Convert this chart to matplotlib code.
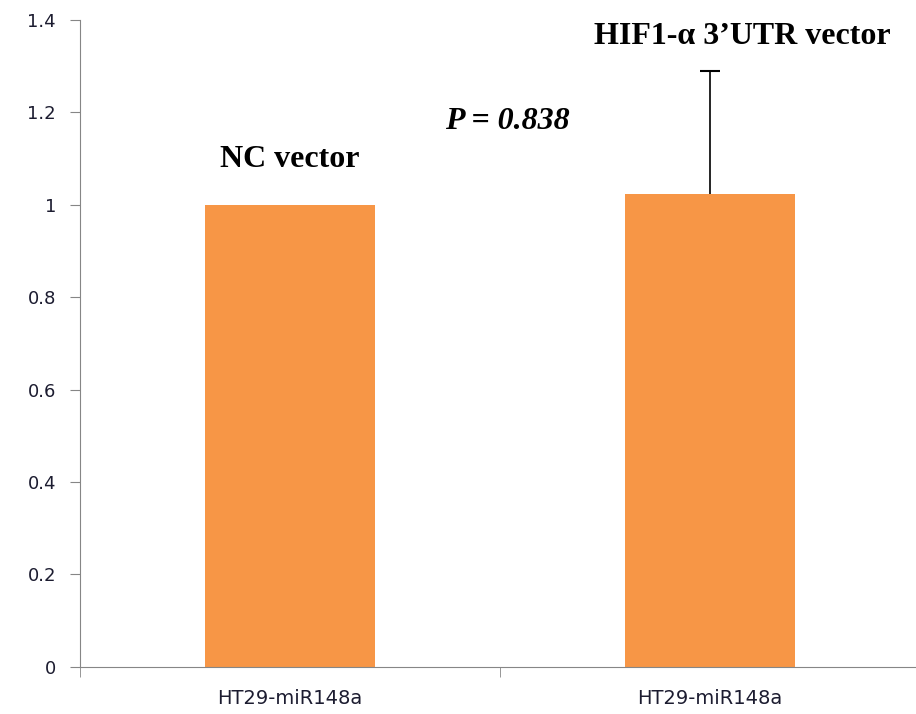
import matplotlib.pyplot as plt
from matplotlib.ticker import FixedLocator

categories = ["HT29-miR148a", "HT29-miR148a"]
values = [1.0, 1.024]
err_up = [0, 0.266]
y_ticks = [0, 0.2, 0.4, 0.6, 0.8, 1.0, 1.2, 1.4]
y_labels = ["0", "0.2", "0.4", "0.6", "0.8", "1", "1.2", "1.4"]

fig = plt.figure(figsize=(9.16, 7.14), dpi=100)
ax = fig.add_axes([0.087, 0.066, 0.913, 0.906])

x = range(len(categories))
ax.bar(x, values, width=0.405, color="#F79646", zorder=2)

# only the upper whisker has a cap
top = values[1] + err_up[1]
ax.errorbar([1], [values[1]], yerr=[[0], [err_up[1]]], fmt="none",
            ecolor="black", elinewidth=1.2, capsize=0, zorder=3)
ax.plot([1], [top], marker="_", markersize=15, markeredgewidth=1.5,
        color="black", zorder=3)

ax.set_xlim(-0.5, 1.49)
ax.set_ylim(0, 1.4)
ax.set_yticks(y_ticks)
ax.set_yticklabels(y_labels, fontsize=13, family="DejaVu Sans", color="#1c1c30")
ax.set_xticks(list(x))
ax.set_xticklabels(categories, fontsize=14, family=["Liberation Sans Narrow", "DejaVu Sans"],
                   color="#1c1c30")
ax.xaxis.set_minor_locator(FixedLocator([-0.5, 0.5]))
ax.tick_params(axis="x", which="major", length=0, pad=16)
ax.tick_params(axis="x", which="minor", length=7, color="#868686")
ax.tick_params(axis="y", length=7, color="#868686", pad=10)

for s in ["top", "right"]:
    ax.spines[s].set_visible(False)
for s in ["left", "bottom"]:
    ax.spines[s].set_color("#868686")

ax.text(0, 1.097, "NC vector", ha="center", va="center", fontsize=23,
        fontweight="bold", family="Liberation Serif")
ax.text(1.076, 1.364, "HIF1-\u03b1 3\u2019UTR vector", ha="center", va="center",
        fontsize=23, fontweight="bold", family="Liberation Serif")
ax.text(0.517, 1.18, "P = 0.838", ha="center", va="center", fontsize=23,
        fontweight="bold", style="italic", family="Liberation Serif")

fig.savefig("out.png", dpi=100)
